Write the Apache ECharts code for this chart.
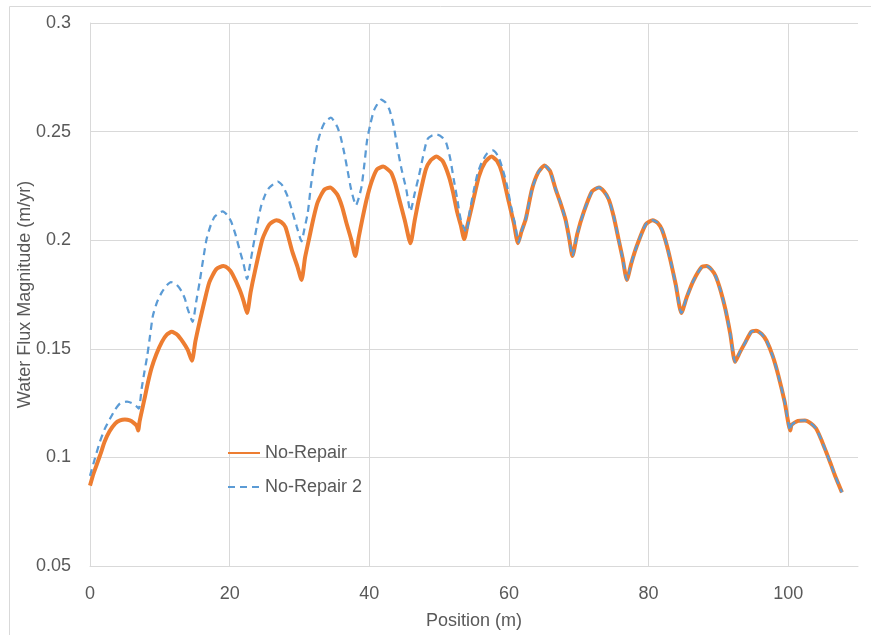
<!DOCTYPE html>
<html>
<head>
<meta charset="UTF-8">
<title>Water Flux Magnitude</title>
<script src="https://cdn.jsdelivr.net/npm/echarts@6/dist/echarts.min.js"></script>
<style>
html, body { margin: 0; padding: 0; background: #fff; }
#main { width: 871px; height: 635px; }
</style>
</head>
<body>
<div id="main"></div>
<script>
// values: [position (m), flux (m/yr)]
var noRepairHead = [
	[0, 0.087], [0.5, 0.0925], [1.0, 0.097], [1.5, 0.1015], [2.1, 0.1073], [2.8, 0.1120], [3.6, 0.1156], [4.3, 0.1170], [5.0, 0.1174], [5.7, 0.1170], [6.3, 0.1158], [6.7, 0.1145], [6.9, 0.1124],
	[7.1, 0.1165], [7.5, 0.1225], [7.9, 0.1284], [8.3, 0.1345], [8.8, 0.141], [9.5, 0.1475], [10.3, 0.1532], [11.0, 0.1565], [11.7, 0.1578], [12.5, 0.1565], [13.3, 0.1532], [14.0, 0.1495], [14.6, 0.1445],
	[15.1, 0.1535], [15.7, 0.1624], [16.4, 0.1720], [17.1, 0.1807], [18.1, 0.1867], [19.1, 0.1881], [19.8, 0.1870], [20.4, 0.1844], [21.4, 0.1775], [22.0, 0.1720], [22.5, 0.1665],
	[23.0, 0.1760], [23.6, 0.1853], [24.7, 0.2005], [25.7, 0.2073], [26.7, 0.2092], [27.4, 0.2083], [28.0, 0.206], [29.0, 0.1945], [29.7, 0.1880], [30.3, 0.1817],
	[30.8, 0.1920], [31.4, 0.2010], [32.0, 0.2100], [32.6, 0.2174], [33.6, 0.2234], [34.4, 0.2243], [35.4, 0.2211], [36.1, 0.2155], [36.7, 0.2083], [37.4, 0.2005], [38.0, 0.1927],
	[38.5, 0.2015], [39.0, 0.2096], [39.6, 0.2185], [40.3, 0.2266], [41.1, 0.2326], [42.0, 0.2339], [43.1, 0.2312], [43.7, 0.2262], [44.3, 0.2188], [45.1, 0.2090], [45.9, 0.1986],
	[46.5, 0.2090], [47.1, 0.2188], [48.1, 0.2326], [48.8, 0.2368], [49.6, 0.2385], [50.5, 0.2365], [51.4, 0.2294], [52.0, 0.2220], [52.6, 0.2128], [53.1, 0.2070], [53.6, 0.2005],
	[54.1, 0.2075], [54.6, 0.2142], [55.7, 0.2294], [56.6, 0.236], [57.5, 0.2385], [58.3, 0.2365], [59.0, 0.2312], [60.0, 0.2174], [60.7, 0.2080], [61.3, 0.1986]
];

var noRepair2Head = [
	[0, 0.0915], [0.7, 0.0995], [1.4, 0.107], [2.1, 0.1130], [2.9, 0.118], [3.6, 0.1220], [4.3, 0.1248], [5.3, 0.1257], [6.0, 0.1250], [6.7, 0.1234], [7.0, 0.1225],
	[7.4, 0.1317], [7.8, 0.1395], [8.2, 0.1468], [8.6, 0.1560], [9.0, 0.1651], [9.6, 0.1715], [10.3, 0.1761], [11.0, 0.1792], [11.6, 0.1807], [12.4, 0.1795], [13.1, 0.1766], [13.6, 0.1730], [14.0, 0.1683], [14.7, 0.1624],
	[15.2, 0.1715], [15.7, 0.1807], [16.2, 0.1910], [16.7, 0.2005], [17.3, 0.2070], [17.9, 0.211], [19.0, 0.2133], [19.6, 0.2118], [20.2, 0.2087], [20.8, 0.2030], [21.4, 0.1959], [22.0, 0.1890], [22.5, 0.1821],
	[22.9, 0.1885], [23.3, 0.1959], [23.9, 0.2065], [24.5, 0.2156], [25.1, 0.2210], [25.7, 0.2243], [26.9, 0.227], [27.6, 0.2250], [28.3, 0.2202], [29.0, 0.2130], [29.6, 0.2064], [30.3, 0.1995],
	[30.7, 0.2050], [31.2, 0.2128], [31.6, 0.2240], [32.1, 0.2358], [32.6, 0.245], [33.1, 0.2505], [33.6, 0.2541], [34.5, 0.2564], [35.4, 0.2523], [35.9, 0.2475], [36.4, 0.2404], [36.9, 0.2320], [37.4, 0.2234], [38.1, 0.2161],
	[38.5, 0.2195], [38.9, 0.2248], [39.3, 0.2350], [39.7, 0.2463], [40.2, 0.2540], [40.7, 0.26], [41.7, 0.2647], [42.3, 0.2635], [42.9, 0.26], [43.5, 0.2525], [44.0, 0.2431], [44.6, 0.2330], [45.3, 0.2234], [45.9, 0.2133],
	[46.5, 0.2215], [47.1, 0.2295], [47.7, 0.2385], [48.3, 0.2463], [49.0, 0.2482], [49.7, 0.2486], [50.4, 0.2475], [51.0, 0.245], [51.6, 0.2375], [52.1, 0.228], [52.6, 0.2190], [53.1, 0.2096], [53.9, 0.2037],
	[54.4, 0.2135], [55.0, 0.2234], [55.5, 0.2305], [56.1, 0.2358], [56.9, 0.2400], [57.7, 0.2413], [58.4, 0.2390], [59.0, 0.2339], [59.7, 0.2255], [60.3, 0.2156], [60.9, 0.2070], [61.4, 0.199]
];

// right part, where both curves lie on top of each other
var sharedTail = [
	[61.8, 0.2040], [62.4, 0.2096], [63.3, 0.2234], [64.2, 0.2312], [65.1, 0.2344], [65.9, 0.2318], [66.7, 0.2234], [67.4, 0.2170], [68.1, 0.2096], [68.6, 0.2015], [69.1, 0.1927],
	[69.8, 0.2030], [70.7, 0.2128], [71.9, 0.2225], [72.9, 0.2243], [73.6, 0.2225], [74.3, 0.2188], [75.0, 0.2110], [75.7, 0.2005], [76.3, 0.1915], [76.9, 0.1817],
	[77.5, 0.1890], [78.3, 0.1972], [79.6, 0.2073], [80.6, 0.2092], [81.3, 0.2080], [81.9, 0.205], [82.5, 0.1990], [83.1, 0.1913], [83.9, 0.1795], [84.7, 0.1665],
	[85.5, 0.1740], [86.4, 0.1812], [87.6, 0.1876], [88.3, 0.1881], [89.0, 0.1865], [89.6, 0.1835], [90.3, 0.1770], [91.0, 0.1683], [91.7, 0.1570], [92.4, 0.144],
	[93.1, 0.1485], [93.9, 0.1532], [94.7, 0.1578], [95.4, 0.1583], [96.2, 0.1568], [96.9, 0.1537], [97.8, 0.1465], [98.6, 0.1376], [99.5, 0.1255], [100.3, 0.1124],
	[100.5, 0.1150], [101.4, 0.1168], [102.4, 0.117], [103.2, 0.1158], [104.0, 0.1133], [104.7, 0.1085], [105.4, 0.1028], [106.1, 0.0970], [106.7, 0.0917], [107.7, 0.0839]
];

var seriesNames = ['No-Repair', 'No-Repair 2'];
var xTicks = { min: 0, max: 110, step: 20 };
var yTicks = { min: 0.05, max: 0.3, step: 0.05 };

var textColor = '#595959';
var gridColor = '#d9d9d9';
var font = 'Liberation Sans';

var myChart = echarts.init(document.getElementById('main'));

var option = {
	animation : false,
	textStyle : { fontFamily : font },
	graphic : [ {
		type : 'rect',
		left : 7,
		top : 4,
		shape : { width : 900, height : 700 },
		style : { fill : 'none', stroke : gridColor, lineWidth : 1 },
		silent : true
	} ],
	grid : {
		left : 90,
		right : 13,
		top : 23,
		bottom : 67
	},
	legend : {
		orient : 'vertical',
		left : 222,
		top : 439,
		itemWidth : 32,
		itemHeight : 14,
		itemGap : 16,
		data : seriesNames,
		itemStyle : { opacity : 0 },
		textStyle : { color : textColor, fontSize : 18, fontFamily : font }
	},
	xAxis : {
		type : 'value',
		min : xTicks.min,
		max : xTicks.max,
		interval : xTicks.step,
		name : 'Position (m)',
		nameLocation : 'middle',
		nameGap : 46,
		nameTextStyle : { color : textColor, fontSize : 18 },
		axisLine : { lineStyle : { color : gridColor } },
		axisTick : { show : false },
		axisLabel : { color : textColor, fontSize : 18, margin : 19, showMaxLabel : false },
		splitLine : { show : true, showMaxLine : false, lineStyle : { color : gridColor } }
	},
	yAxis : {
		type : 'value',
		min : yTicks.min,
		max : yTicks.max,
		interval : yTicks.step,
		name : 'Water Flux Magnitude (m/yr)',
		nameLocation : 'middle',
		nameGap : 56,
		nameMoveOverlap : false,
		nameTextStyle : { color : textColor, fontSize : 18 },
		axisLine : { show : true, lineStyle : { color : gridColor } },
		axisTick : { show : false },
		axisLabel : { color : textColor, fontSize : 18, margin : 19 },
		splitLine : { show : true, lineStyle : { color : gridColor } }
	},
	series : [ {
		name : seriesNames[0],
		type : 'line',
		data : noRepairHead.concat(sharedTail),
		smooth : 0.2,
		symbol : 'none',
		lineStyle : { color : '#ED7D31', width : 4 },
		itemStyle : { color : '#ED7D31' }
	}, {
		name : seriesNames[1],
		type : 'line',
		data : noRepair2Head.concat(sharedTail),
		smooth : 0.2,
		symbol : 'none',
		lineStyle : { color : '#5B9BD5', width : 2.25, type : [7, 5] },
		itemStyle : { color : '#5B9BD5' }
	} ]
};
myChart.setOption(option);
</script>
</body>
</html>
